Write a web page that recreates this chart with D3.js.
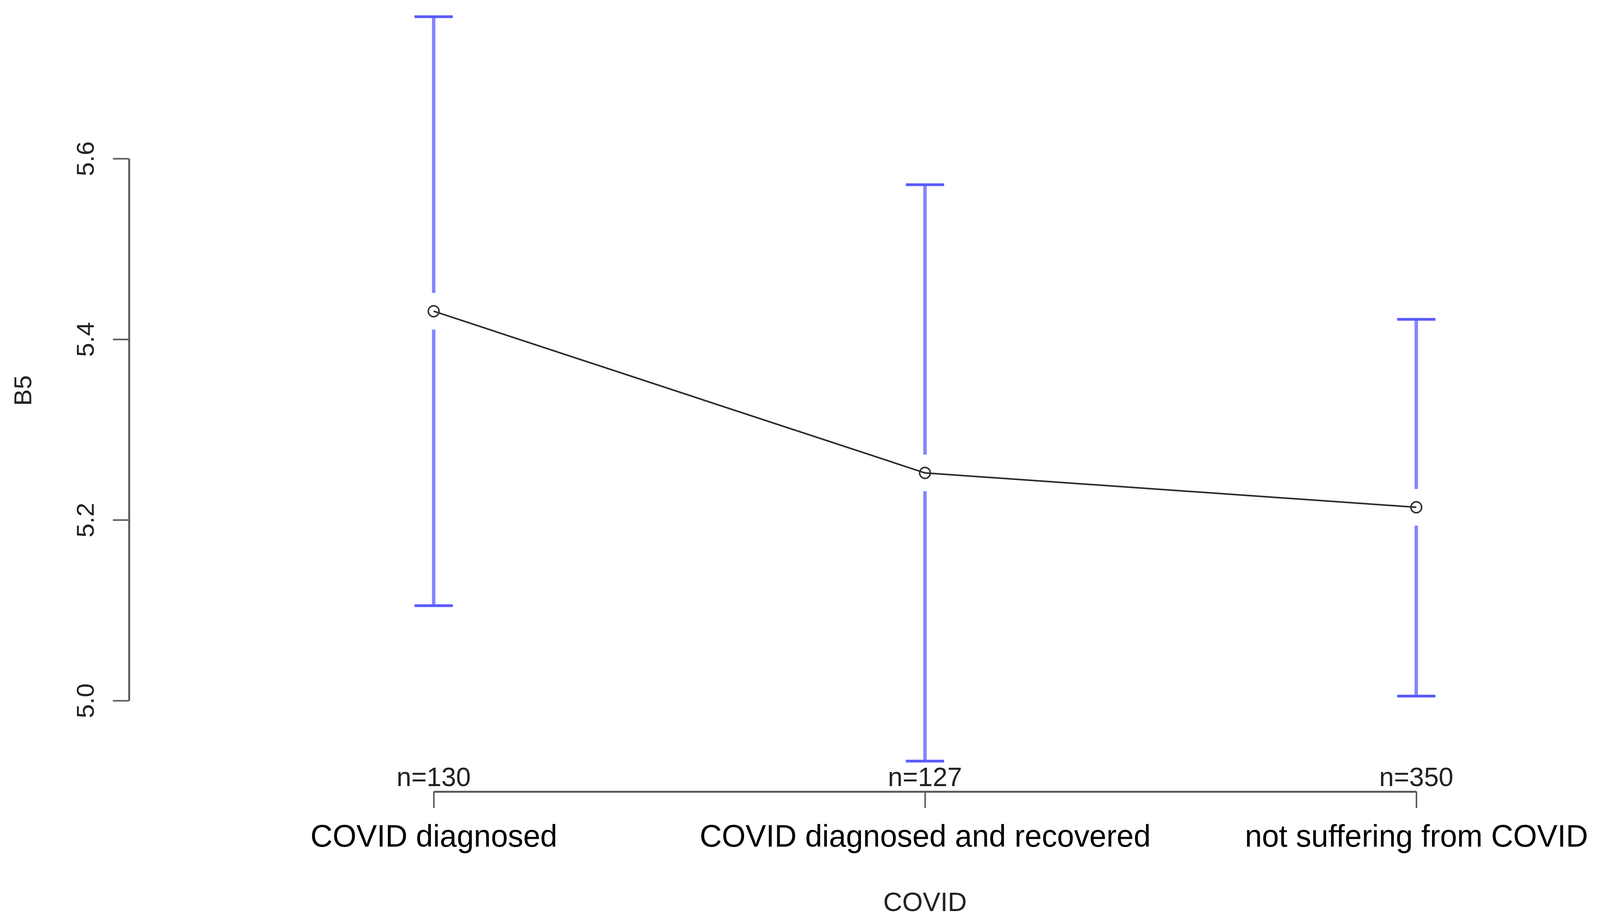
<!DOCTYPE html>
<html>
<head>
<meta charset="utf-8">
<script src="https://cdn.jsdelivr.net/npm/d3@7"></script>
<style>
  html, body { margin: 0; padding: 0; background: #fff; overflow: hidden; }
  #chart svg { display: block; width: 100vw; height: 100vh; }
  text { font-family: "Liberation Sans", Arial, sans-serif; }
</style>
</head>
<body>
<div id="chart"></div>
<script>
// group means of B5 with 95% CI bounds
const groups = ["COVID diagnosed", "COVID diagnosed and recovered", "not suffering from COVID"];
const counts = [130, 127, 350];
const means = [5.431, 5.252, 5.214];
const upper = [5.757, 5.571, 5.422];
const lower = [5.105, 4.933, 5.005];
const yTicks = [5.0, 5.2, 5.4, 5.6];

const width = 4180;
const height = 2361;

// drawn in a fixed 4180x2361 space, stretched to whatever the viewport is
const svg = d3
  .select("#chart")
  .append("svg")
  .attr("viewBox", `0 0 ${width} ${height}`)
  .attr("preserveAspectRatio", "none");

svg.append("rect").attr("width", width).attr("height", height).attr("fill", "#fff");

const x = d3.scalePoint().domain(groups).range([1133, 3700]);
const y = d3.scaleLinear().domain([5.0, 5.6]).range([1794, 406]);

const data = groups.map((g, i) => ({
  group: g,
  n: counts[i],
  mean: means[i],
  hi: upper[i],
  lo: lower[i],
}));

// y axis
const yAxis = svg
  .append("g")
  .attr("transform", "translate(337,0)")
  .call(d3.axisLeft(y).tickValues(yTicks).tickSize(42).tickSizeOuter(0).tickFormat(d3.format(".1f")));

yAxis.select(".domain").attr("stroke", "#5a5a5a").attr("stroke-width", 5);
yAxis.selectAll(".tick line").attr("stroke", "#5a5a5a").attr("stroke-width", 4);
yAxis
  .selectAll(".tick text")
  .attr("x", null)
  .attr("dy", null)
  .attr("transform", "translate(-92,0) rotate(-90)")
  .attr("text-anchor", "middle")
  .attr("fill", "#222")
  .style("font-size", "64px");

// x axis
const xAxis = svg
  .append("g")
  .attr("transform", "translate(0,2027)")
  .call(d3.axisBottom(x).tickSize(42).tickSizeOuter(0));

xAxis.select(".domain").attr("stroke", "#5a5a5a").attr("stroke-width", 5);
xAxis.selectAll(".tick line").attr("stroke", "#5a5a5a").attr("stroke-width", 4);
xAxis
  .selectAll(".tick text")
  .attr("y", 141)
  .attr("dy", null)
  .attr("fill", "#000")
  .style("font-size", "80px");

// sample sizes above the axis
svg
  .selectAll("text.n-label")
  .data(data)
  .enter()
  .append("text")
  .attr("class", "n-label")
  .attr("x", (d) => x(d.group))
  .attr("y", 2013)
  .attr("text-anchor", "middle")
  .attr("fill", "#222")
  .style("font-size", "69px")
  .text((d) => `n=${d.n}`);

// axis titles
svg
  .append("text")
  .attr("x", (1133 + 3700) / 2)
  .attr("y", 2333)
  .attr("text-anchor", "middle")
  .attr("fill", "#222")
  .style("font-size", "69px")
  .text("COVID");

svg
  .append("text")
  .attr("transform", "translate(82,1000) rotate(-90)")
  .attr("text-anchor", "middle")
  .attr("fill", "#222")
  .style("font-size", "64px")
  .text("B5");

// error bars, with a gap around the mean marker
const gap = 47;
const barColor = "#8585ff";
const capColor = "#5a5aff";

svg
  .selectAll("line.ci-top")
  .data(data)
  .enter()
  .append("line")
  .attr("class", "ci-top")
  .attr("x1", (d) => x(d.group))
  .attr("x2", (d) => x(d.group))
  .attr("y1", (d) => y(d.hi))
  .attr("y2", (d) => y(d.mean) - gap)
  .attr("stroke", barColor)
  .attr("stroke-width", 9);

svg
  .selectAll("line.ci-bottom")
  .data(data)
  .enter()
  .append("line")
  .attr("class", "ci-bottom")
  .attr("x1", (d) => x(d.group))
  .attr("x2", (d) => x(d.group))
  .attr("y1", (d) => y(d.mean) + gap)
  .attr("y2", (d) => y(d.lo))
  .attr("stroke", barColor)
  .attr("stroke-width", 9);

const caps = data.flatMap((d) => [
  { group: d.group, v: d.hi },
  { group: d.group, v: d.lo },
]);

svg
  .selectAll("line.cap")
  .data(caps)
  .enter()
  .append("line")
  .attr("class", "cap")
  .attr("x1", (d) => x(d.group) - 50)
  .attr("x2", (d) => x(d.group) + 50)
  .attr("y1", (d) => y(d.v))
  .attr("y2", (d) => y(d.v))
  .attr("stroke", capColor)
  .attr("stroke-width", 7);

// mean line and markers
const line = d3
  .line()
  .x((d) => x(d.group))
  .y((d) => y(d.mean));

svg
  .append("path")
  .datum(data)
  .attr("fill", "none")
  .attr("stroke", "#2b2b2b")
  .attr("stroke-width", 4)
  .attr("d", line);

svg
  .selectAll("circle.mean")
  .data(data)
  .enter()
  .append("circle")
  .attr("class", "mean")
  .attr("cx", (d) => x(d.group))
  .attr("cy", (d) => y(d.mean))
  .attr("r", 14)
  .attr("fill", "none")
  .attr("stroke", "#333")
  .attr("stroke-width", 4);
</script>
</body>
</html>
